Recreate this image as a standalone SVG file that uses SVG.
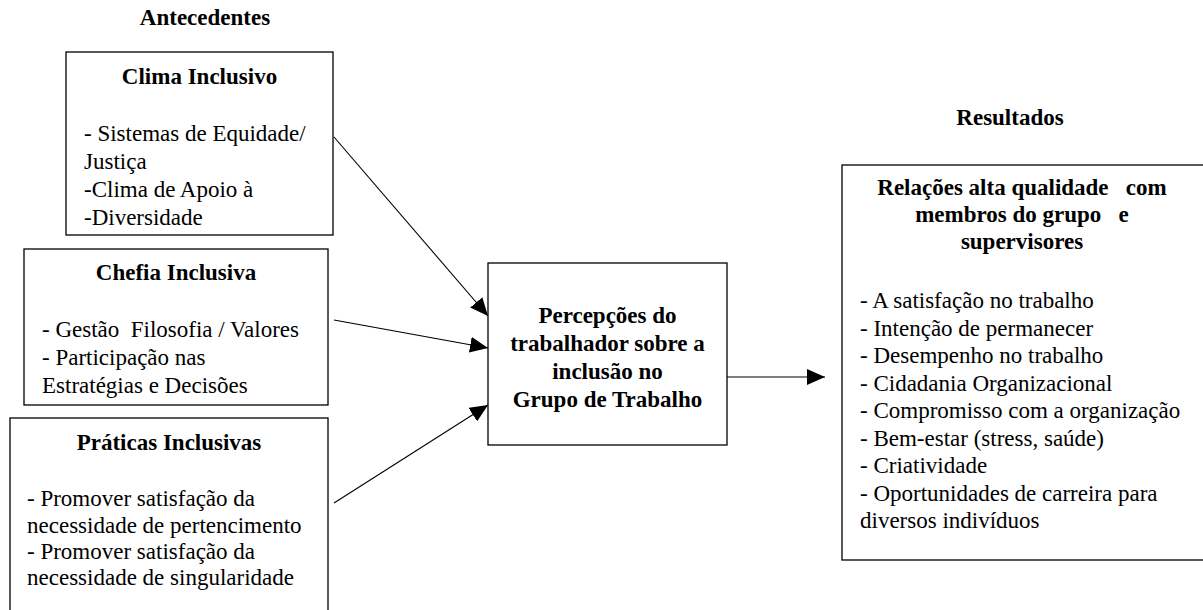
<svg xmlns="http://www.w3.org/2000/svg" width="1203" height="610" viewBox="0 0 1203 610">
<style>
text{font-family:"Liberation Serif","Times New Roman",serif;font-size:23px;fill:#000;white-space:pre}
.b{font-weight:bold}
.c{text-anchor:middle}
.box{fill:#fff;stroke:#000;stroke-width:1.3}
.con{stroke:#000;stroke-width:1.1;fill:none;marker-end:url(#ah)}
</style>
<defs>
<marker id="ah" markerUnits="userSpaceOnUse" markerWidth="18" markerHeight="16" refX="18" refY="8" orient="auto">
<path d="M0,0 L18,8 L0,16 z" fill="#000"/>
</marker>
</defs>
<rect width="1203" height="610" fill="#fff"/>
<g id="labels">
<text class="b c" x="205" y="25">Antecedentes</text>
<text class="b c" x="1010" y="125">Resultados</text>
</g>
<g id="clima">
<rect class="box" x="66" y="52" width="267" height="183"/>
<text class="b c" x="199.5" y="84">Clima Inclusivo</text>
<text x="84" y="141">- Sistemas de Equidade/</text>
<text x="84" y="169">Justiça</text>
<text x="84" y="197">-Clima de Apoio à</text>
<text x="84" y="225">-Diversidade</text>
</g>
<g id="chefia">
<rect class="box" x="24" y="249" width="304" height="156"/>
<text class="b c" x="176" y="280">Chefia Inclusiva</text>
<text x="42" y="337">- Gestão  Filosofia / Valores</text>
<text x="42" y="365">- Participação nas</text>
<text x="42" y="393">Estratégias e Decisões</text>
</g>
<g id="praticas">
<rect class="box" x="10" y="418" width="318" height="220"/>
<text class="b c" x="169" y="450">Práticas Inclusivas</text>
<text x="27" y="506">- Promover satisfação da</text>
<text x="27" y="532.5">necessidade de pertencimento</text>
<text x="27" y="559">- Promover satisfação da</text>
<text x="27" y="585">necessidade de singularidade</text>
</g>
<g id="percepcoes">
<rect class="box" x="488" y="263" width="239" height="182"/>
<text class="b c" x="607.5" y="323">Percepções do</text>
<text class="b c" x="607.5" y="351">trabalhador sobre a</text>
<text class="b c" x="607.5" y="379">inclusão no</text>
<text class="b c" x="607.5" y="407">Grupo de Trabalho</text>
</g>
<g id="resultados">
<rect class="box" x="842" y="165" width="380" height="395"/>
<text class="b c" x="1022" y="195">Relações alta qualidade   com</text>
<text class="b c" x="1022" y="222">membros do grupo   e</text>
<text class="b c" x="1022" y="249">supervisores</text>
<text x="860" y="308">- A satisfação no trabalho</text>
<text x="860" y="335.5">- Intenção de permanecer</text>
<text x="860" y="363">- Desempenho no trabalho</text>
<text x="860" y="390.5">- Cidadania Organizacional</text>
<text x="860" y="418">- Compromisso com a organização</text>
<text x="860" y="445.5">- Bem-estar (stress, saúde)</text>
<text x="860" y="473">- Criatividade</text>
<text x="860" y="500.5">- Oportunidades de carreira para</text>
<text x="860" y="528">diversos indivíduos</text>
</g>
<g id="connectors">
<line class="con" x1="334" y1="137" x2="488" y2="316"/>
<line class="con" x1="334" y1="320" x2="488" y2="348"/>
<line class="con" x1="334" y1="503" x2="488" y2="405"/>
<line class="con" x1="727" y1="377" x2="825" y2="377"/>
</g>
</svg>
